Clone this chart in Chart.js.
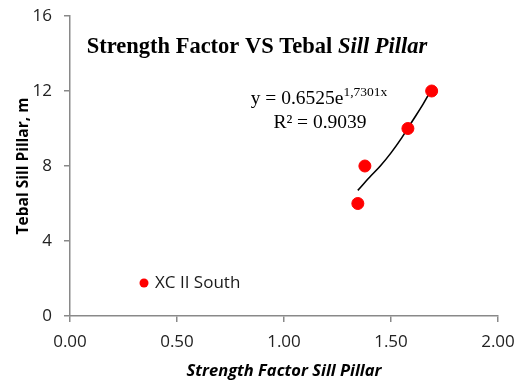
<!DOCTYPE html>
<html>
<head>
<meta charset="utf-8">
<script src="https://cdn.jsdelivr.net/npm/chart.js@4.4.1/dist/chart.umd.min.js"></script>
<style>
  body { margin: 0; background: #fff; }
</style>
</head>
<body>
<canvas id="c" width="520" height="383"></canvas>
<script>
// DATA
const strengthFactor = [1.345, 1.378, 1.579, 1.69];
const tebal = [6, 8, 10, 12];
// trendline
const trendX = [1.345, 1.40, 1.45, 1.50, 1.55, 1.60, 1.65, 1.69];
const trendY = [6.7, 7.4, 8.0, 8.7, 9.5, 10.4, 11.3, 12.1];
const xTicks = [0, 0.5, 1.0, 1.5, 2.0];
const yTicks = [0, 4, 8, 12, 16];
const seriesName = 'XC II South';

const sans = "'Open Sans', 'DejaVu Sans', sans-serif";
const serif = "'Liberation Serif', 'Times New Roman', serif";
const axisGray = '#898989';

// title, equation and the legend are drawn by hand
const annotations = {
  id: 'annotations',
  afterDraw(chart) {
    const ctx = chart.ctx;
    ctx.save();
    ctx.fillStyle = '#000';
    ctx.textBaseline = 'alphabetic';
    // title
    const t1 = 'Strength Factor VS Tebal ';
    const t2 = 'Sill Pillar';
    ctx.font = 'bold 22.5px ' + serif;
    const w1 = ctx.measureText(t1).width;
    ctx.font = 'italic bold 22.5px ' + serif;
    const w2 = ctx.measureText(t2).width;
    const x0 = 257 - (w1 + w2) / 2;
    ctx.font = 'bold 22.5px ' + serif;
    ctx.fillText(t1, x0, 53);
    ctx.font = 'italic bold 22.5px ' + serif;
    ctx.fillText(t2, x0 + w1, 53);

    // trendline equation
    ctx.font = '19.5px ' + serif;
    const e1 = 'y = 0.6525e';
    const ew = ctx.measureText(e1).width;
    ctx.font = '13.5px ' + serif;
    const sw = ctx.measureText('1,7301x').width;
    const ex = 319 - (ew + sw) / 2;
    ctx.font = '19.5px ' + serif;
    ctx.fillText(e1, ex, 104);
    ctx.font = '13.5px ' + serif;
    ctx.fillText('1,7301x', ex + ew, 96);
    ctx.font = '19.5px ' + serif;
    ctx.textAlign = 'center';
    ctx.fillText('R² = 0.9039', 320, 128);

    // legend
    ctx.textAlign = 'left';
    ctx.textBaseline = 'middle';
    ctx.fillStyle = '#ff0000';
    ctx.beginPath();
    ctx.arc(144, 283, 4.5, 0, Math.PI * 2);
    ctx.fill();
    ctx.fillStyle = '#1a1a1a';
    ctx.font = '17px ' + sans;
    ctx.fillText(seriesName, 155, 283);
    ctx.restore();
  }
};

new Chart(document.getElementById('c'), {
  type: 'scatter',
  data: {
    datasets: [{
      label: seriesName,
      data: strengthFactor.map((x, i) => ({ x: x, y: tebal[i] })),
      backgroundColor: '#ff0000',
      borderColor: '#ff0000',
      pointRadius: 6,
      order: 1
    }, {
      label: 'Trend',
      type: 'line',
      data: trendX.map((x, i) => ({ x: x, y: trendY[i] })),
      borderColor: '#000',
      borderWidth: 1.6,
      pointRadius: 0,
      cubicInterpolationMode: 'monotone',
      fill: false,
      order: 2
    }]
  },
  options: {
    responsive: false,
    animation: false,
    layout: { padding: { top: 16, right: 22, left: 0, bottom: 0 } },
    plugins: {
      legend: { display: false },
      title: { display: false },
      tooltip: { enabled: false }
    },
    scales: {
      x: {
        type: 'linear',
        min: 0,
        max: 2,
        afterBuildTicks: (s) => { s.ticks = xTicks.map(v => ({ value: v })); },
        afterFit: (s) => { s.height = 67; s.paddingLeft = 0; s.paddingRight = 0; },
        ticks: {
          callback: (v) => v.toFixed(2),
          font: { family: sans, size: 17 },
          color: '#222',
          padding: 10,
          maxRotation: 0
        },
        grid: { drawOnChartArea: false, tickLength: 6, color: axisGray, lineWidth: 1.5 },
        border: { color: axisGray, width: 1.5 },
        title: {
          display: true,
          text: 'Strength Factor Sill Pillar',
          font: { family: sans, size: 16.5, weight: 'bold', style: 'italic' },
          color: '#000',
          padding: { top: 0, bottom: 2 }
        }
      },
      y: {
        type: 'linear',
        min: 0,
        max: 16,
        afterBuildTicks: (s) => { s.ticks = yTicks.map(v => ({ value: v })); },
        afterFit: (s) => { s.width = 70; s.paddingTop = 0; s.paddingBottom = 0; },
        ticks: {
          font: { family: sans, size: 17 },
          color: '#222',
          padding: 12
        },
        grid: { drawOnChartArea: false, tickLength: 6, color: axisGray, lineWidth: 1.5 },
        border: { color: axisGray, width: 1.5 },
        title: {
          display: true,
          text: 'Tebal Sill Pillar, m',
          font: { family: sans, size: 15.5, weight: 'bold' },
          color: '#000',
          padding: { top: 14, bottom: 0 }
        }
      }
    }
  },
  plugins: [annotations]
});
</script>
</body>
</html>
